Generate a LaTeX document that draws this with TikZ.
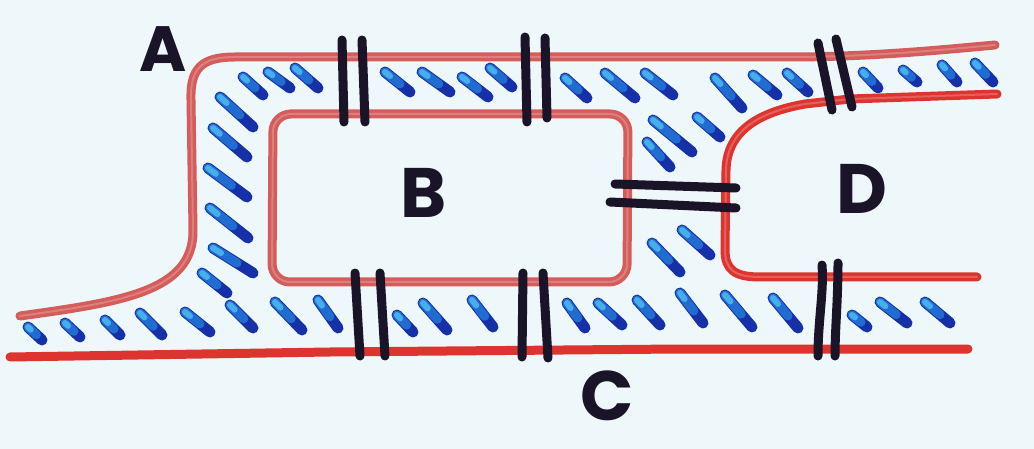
\documentclass[tikz,border=0pt]{standalone}
\usepackage{fontspec}
\setsansfont{Poppins}
\usetikzlibrary{calc}
\definecolor{bg}{RGB}{238,247,250}
\definecolor{redA}{RGB}{212,92,90}
\definecolor{redB}{RGB}{222,52,48}
\definecolor{ink}{RGB}{26,20,40}
\definecolor{bdark}{RGB}{22,48,168}
\definecolor{bmid}{RGB}{32,108,208}
\definecolor{blight}{RGB}{70,175,235}
\tikzset{
  redline/.style={draw=redA, line width=9pt, line cap=round, line join=round},
  redvivid/.style={draw=redB, line width=9pt, line cap=round, line join=round},
  shine/.style={draw=white, opacity=0.22, line width=2pt, line cap=round, line join=round},
  bar/.style={draw=ink, line width=9pt, line cap=round},
  dk/.style={draw=bdark, line width=11pt, line cap=round},
  md/.style={draw=bmid, line width=9pt, line cap=round},
  lt/.style={draw=blight, line width=6pt, line cap=round},
  letter/.style={text=ink, font=\sffamily\bfseries\fontsize{70}{70}\selectfont, inner sep=0pt}
}
\begin{document}
\begin{tikzpicture}[x=1pt,y=-1pt]
\fill[bg] (0,0) rectangle (1034,449);
\useasboundingbox (0,0) rectangle (1034,449);

% outer channel boundary (A)
\draw[redline] (20,316) .. controls (120,302) and (194,292) .. (193,230)
   -- (191,100) .. controls (190,68) and (202,57) .. (235,57)
   -- (600,57) -- (800,57) .. controls (880,56) and (940,50) .. (995,45);
\draw[shine] (20,316) .. controls (120,302) and (194,292) .. (193,230)
   -- (191,100) .. controls (190,68) and (202,57) .. (235,57)
   -- (600,57) -- (800,57) .. controls (880,56) and (940,50) .. (995,45);
% bottom boundary (C side)
\draw[redvivid] (10,357) -- (330,352) -- (680,349) -- (968,349);
% island B
\draw[redline, rounded corners=18pt] (290,114) -- (628,114) -- (627,282) -- (272,282) -- (273,114) -- (300,114);
\draw[shine, rounded corners=18pt] (290,114) -- (628,114) -- (627,282) -- (272,282) -- (273,114) -- (300,114);
% island D
\draw[redvivid] (997,94) -- (850,99) -- (805,104) .. controls (760,112) and (727,130) .. (726,170)
   -- (725,250) .. controls (725,270) and (735,277) .. (760,277) -- (977,277);
\draw[shine] (997,94) -- (850,99) -- (805,104) .. controls (760,112) and (727,130) .. (726,170)
   -- (725,250) .. controls (725,270) and (735,277) .. (760,277) -- (977,277);

% blue dashes
\foreach \a/\b/\c/\d in {
  243/77/263/95, 268/72/290/88, 295/68/318/88, 385/72/410/92, 422/72/450/92,
  462/77/488/97, 490/68/512/87, 565/78/587/98, 605/73/635/98, 645/73/673/95,
  715/78/742/108, 753/75/777/95, 787/73/808/92, 863/72/878/88, 903/70/917/82,
  942/65/957/82, 975/63/993/82,
  653/120/692/152, 697/117/720/137, 647/142/670/167, 682/230/710/255, 652/243/680/272,
  220/97/253/127, 213/128/247/157, 208/168/247/197, 210/208/248/238, 213/248/253/273, 202/273/227/293,
  28/327/42/340, 65/323/80/337, 105/320/120/335, 140/313/162/335, 185/312/210/332,
  230/305/253/328, 275/302/302/330, 318/300/338/328, 397/315/413/332, 423/303/447/330,
  472/300/493/327, 567/303/585/328, 598/303/622/325, 637/300/660/325, 680/293/703/323,
  725/295/752/327, 773/298/798/328, 852/315/867/327, 880/302/907/323, 925/302/950/323}
{
  \draw[dk] (\a,\b) -- (\c,\d);
  \draw[md] (\a,\b) -- ($(\a,\b)!0.6!(\c,\d)$);
  \draw[lt] (\a,\b) -- ($(\a,\b)!0.2!(\c,\d)$);
}

% black bars
\draw[bar] (342,40) -- (344,122);
\draw[bar] (362,40) -- (365,122);
\draw[bar] (525,37) -- (527,122);
\draw[bar] (545,38) -- (547,118);
\draw[bar] (818,43) -- (832,110);
\draw[bar] (836,39) -- (852,107);
\draw[bar] (355,273) -- (360,356);
\draw[bar] (380,273) -- (385,356);
\draw[bar] (523,273) -- (522,357);
\draw[bar] (543,273) -- (548,358);
\draw[bar] (822,265) .. controls (824,292) and (818,320) .. (818,356);
\draw[bar] (838,263) .. controls (838,300) and (835,330) .. (835,356);
\draw[bar] (615,184) -- (736,188);
\draw[bar] (610,202) -- (736,208);

% labels
\node[letter, font=\sffamily\bfseries\fontsize{64}{64}\selectfont] (A) at (163,49) {A};
\node[letter] (B) at (424,193) {B};
\node[letter] (C) at (607,396) {C};
\node[letter] (D) at (862,189) {D};
\end{tikzpicture}
\end{document}
